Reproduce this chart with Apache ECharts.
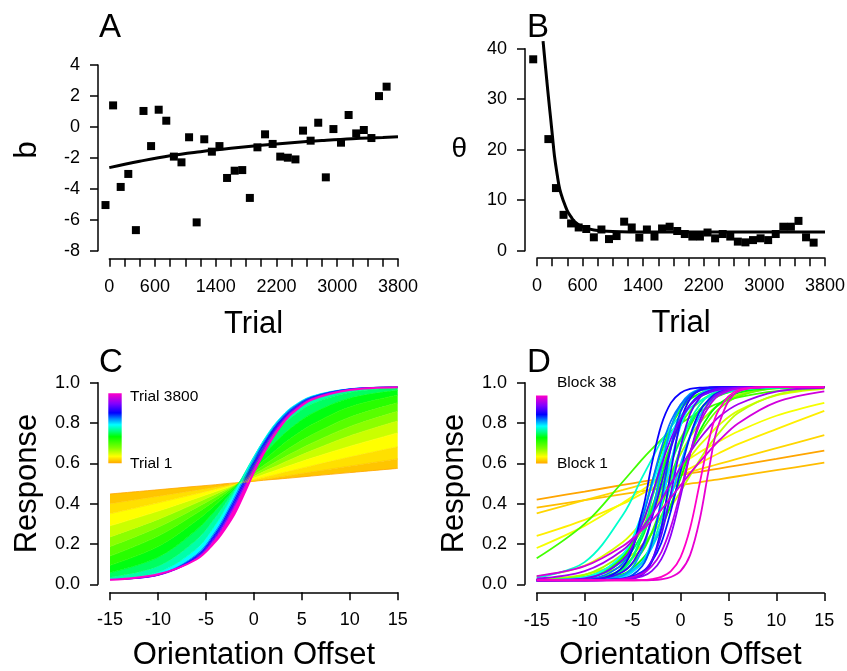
<!DOCTYPE html>
<html><head><meta charset="utf-8">
<script src="https://cdn.jsdelivr.net/npm/echarts@6/dist/echarts.min.js"></script>
<style>html,body{margin:0;padding:0;background:#fff}#chart{width:847px;height:671px}</style>
</head><body><div id="chart"></div>
<script>
// ---------- Panel A / B data ----------
const blockTrials = [-50,50,150,250,350,450,550,650,750,850,950,1050,1150,1250,1350,1450,1550,1650,1750,1850,1950,2050,2150,2250,2350,2450,2550,2650,2750,2850,2950,3050,3150,3250,3350,3450,3550,3650];
const biasValues = [-5.05,1.39,-3.88,-3.04,-6.67,1.03,-1.24,1.11,0.40,-1.92,-2.29,-0.67,-6.17,-0.80,-1.60,-1.24,-3.30,-2.83,-2.79,-4.59,-1.32,-0.48,-1.10,-1.92,-1.99,-2.10,-0.24,-0.89,0.27,-3.26,-0.14,-1.02,0.77,-0.42,-0.20,-0.72,1.99,2.60];
const biasFitTrials = [0,400,800,1200,1600,2000,2400,2800,3200,3600,3800];
const biasFitValues = [-2.63,-2.22,-1.86,-1.6,-1.38,-1.19,-1.02,-0.88,-0.76,-0.68,-0.63];
const thetaValues = [37.9,null,22.1,12.4,7.1,5.4,4.6,4.3,2.65,4.2,2.3,2.9,5.75,4.6,2.6,4.2,2.8,4.4,4.75,3.9,3.3,2.8,2.8,3.6,2.45,3.3,2.8,1.8,1.65,2.1,2.45,2.1,3.3,4.75,4.75,5.9,2.65,1.6];
const thetaFitTrials = [80,105,130,155,180,205,230,265,300,350,400,450,500,600,750,1000,1500,3800];
const thetaFitValues = [41.5,37.5,33.6,29.8,26.2,22.5,18.8,15.2,12.2,9.8,7.9,6.7,5.7,4.7,4.1,3.8,3.7,3.7];
const trialTickLabels = [0,600,1400,2200,3000,3800];

// ---------- Panel C / D data ----------
const offsetGrid = [-15,-10,-6,-4,-3,-2,-1,0,1,2,3,4,6,10,15];
// psychometric curves over trials (trial 1 first, trial 3800 last)
const trialCurves = [
 [.448,.469,.486,.494,.499,.503,.507,.511,.516,.52,.524,.528,.537,.554,.575],
 [.40,.437,.467,.482,.489,.497,.505,.512,.52,.527,.535,.542,.557,.586,.622],
 [.35,.404,.449,.472,.484,.495,.507,.518,.53,.541,.553,.564,.587,.631,.682],
 [.29,.363,.427,.46,.476,.493,.51,.527,.544,.56,.577,.593,.625,.684,.751],
 [.235,.322,.404,.447,.469,.491,.513,.535,.558,.579,.601,.622,.662,.736,.81],
 [.187,.283,.38,.433,.461,.489,.517,.545,.572,.599,.625,.651,.699,.782,.858],
 [.14,.239,.352,.417,.451,.486,.521,.555,.589,.622,.654,.685,.74,.829,.9],
 [.094,.187,.315,.395,.438,.482,.527,.571,.613,.654,.693,.729,.791,.88,.938],
 [.058,.134,.269,.367,.421,.477,.534,.59,.644,.694,.739,.78,.845,.923,.962],
 [.036,.09,.22,.333,.4,.471,.544,.614,.68,.739,.789,.831,.893,.952,.974],
 [.027,.06,.175,.296,.374,.46,.549,.634,.711,.777,.83,.871,.925,.967,.978],
 [.024,.05,.152,.271,.351,.443,.538,.631,.714,.784,.839,.881,.933,.97,.979],
 [.024,.048,.145,.26,.339,.429,.524,.618,.702,.774,.832,.875,.93,.969,.979],
 [.024,.046,.139,.249,.326,.415,.51,.604,.691,.765,.824,.87,.927,.969,.978],
 [.023,.045,.132,.239,.314,.401,.495,.59,.678,.754,.816,.864,.924,.968,.978],
 [.023,.044,.127,.229,.301,.387,.481,.576,.666,.744,.808,.857,.921,.967,.978],
 [.022,.05,.123,.212,.275,.35,.45,.556,.648,.73,.797,.848,.915,.964,.978]
];
const trialCurveShade = [0,.035,.065,.10,.15,.21,.27,.33,.39,.44,.49,.55,.62,.70,.78,.87,1.0];
// fitted curve per block (block 1 .. block 38)
const blockCurves = [
 [.42,.46,.493,.509,.517,.525,.533,.541,.55,.558,.566,.574,.59,.622,.663],
 [.38,.417,.447,.462,.469,.477,.484,.492,.499,.506,.514,.521,.536,.566,.603],
 [.352,.417,.468,.494,.507,.52,.533,.546,.558,.571,.584,.597,.623,.675,.74],
 [.24,.32,.40,.45,.475,.50,.525,.55,.575,.60,.625,.65,.695,.77,.86],
 [.18,.29,.405,.468,.5,.532,.563,.595,.625,.655,.682,.709,.758,.836,.90],
 [.039,.093,.21,.31,.37,.43,.5,.565,.63,.69,.74,.79,.86,.937,.97],
 [.025,.048,.114,.195,.25,.31,.383,.46,.54,.617,.69,.75,.85,.94,.973],
 [.025,.047,.15,.27,.355,.45,.55,.645,.73,.80,.85,.89,.94,.972,.975],
 [.022,.037,.134,.278,.383,.5,.617,.722,.805,.866,.907,.935,.963,.975,.978],
 [.022,.033,.093,.18,.255,.34,.445,.555,.66,.745,.815,.87,.932,.972,.978],
 [.022,.035,.14,.31,.43,.565,.69,.79,.86,.907,.937,.955,.972,.977,.978],
 [.129,.30,.51,.62,.671,.717,.759,.797,.828,.856,.879,.898,.927,.958,.973],
 [.02,.024,.065,.162,.257,.383,.53,.672,.785,.866,.914,.944,.97,.977,.978],
 [.02,.028,.134,.345,.5,.655,.78,.866,.918,.946,.963,.971,.976,.978,.978],
 [.021,.024,.05,.125,.19,.278,.395,.525,.655,.76,.84,.893,.95,.975,.978],
 [.02,.024,.08,.23,.37,.535,.69,.81,.89,.935,.957,.969,.977,.978,.979],
 [.021,.033,.115,.25,.355,.475,.6,.715,.80,.866,.91,.937,.965,.977,.978],
 [.02,.022,.072,.25,.42,.617,.78,.88,.935,.96,.971,.975,.977,.978,.979],
 [.02,.021,.04,.105,.19,.325,.5,.675,.81,.89,.938,.96,.975,.978,.979],
 [.033,.11,.345,.53,.62,.71,.78,.835,.875,.908,.932,.946,.965,.976,.978],
 [.02,.035,.15,.35,.485,.625,.745,.83,.89,.93,.951,.964,.975,.978,.979],
 [.02,.02,.036,.11,.215,.395,.605,.785,.89,.942,.965,.975,.978,.979,.979],
 [.02,.022,.046,.11,.18,.29,.435,.595,.735,.835,.90,.938,.968,.977,.978],
 [.02,.021,.044,.17,.34,.575,.775,.89,.945,.967,.975,.977,.978,.979,.979],
 [.02,.024,.105,.325,.5,.675,.81,.89,.938,.96,.971,.976,.978,.979,.979],
 [.02,.02,.028,.09,.205,.42,.68,.855,.935,.965,.975,.977,.978,.979,.979],
 [.02,.021,.028,.062,.112,.205,.365,.56,.735,.857,.92,.954,.975,.978,.979],
 [.02,.021,.088,.36,.595,.79,.90,.949,.969,.975,.977,.978,.979,.979,.979],
 [.02,.02,.022,.048,.112,.278,.56,.805,.92,.963,.975,.978,.979,.979,.979],
 [.02,.022,.062,.19,.325,.5,.675,.81,.89,.938,.96,.971,.977,.978,.979],
 [.02,.02,.025,.058,.118,.245,.453,.68,.845,.925,.958,.972,.977,.978,.979],
 [.02,.029,.122,.30,.44,.59,.722,.82,.887,.93,.952,.965,.975,.978,.979],
 [.02,.02,.023,.039,.065,.125,.245,.435,.648,.812,.905,.947,.975,.978,.979],
 [.028,.065,.17,.278,.345,.42,.5,.58,.655,.722,.78,.83,.893,.956,.975],
 [.02,.02,.026,.052,.09,.16,.285,.46,.648,.795,.885,.936,.971,.978,.979],
 [.041,.09,.19,.27,.315,.37,.43,.49,.55,.607,.661,.712,.798,.904,.957],
 [.02,.02,.02,.02,.021,.025,.036,.065,.145,.32,.58,.795,.956,.979,.979],
 [.02,.02,.02,.021,.026,.037,.065,.134,.278,.5,.722,.866,.963,.979,.979]
];

// ---------- styling helpers ----------
const FONT = "'Liberation Sans', Arial, Helvetica, sans-serif";
const rampStops = [[0,[255,165,0]],[0.1,[255,255,0]],[0.22,[128,255,0]],[0.38,[0,255,0]],[0.46,[0,255,128]],[0.55,[0,255,255]],[0.64,[0,128,255]],[0.72,[0,0,255]],[0.85,[128,0,255]],[1,[255,0,200]]];
function ramp(f){
  for(let i=1;i<rampStops.length;i++){
    if(f<=rampStops[i][0]){
      const f0=rampStops[i-1][0],c0=rampStops[i-1][1],f1=rampStops[i][0],c1=rampStops[i][1];
      const t=(f-f0)/(f1-f0);
      return 'rgb('+c0.map((v,j)=>Math.round(v+(c1[j]-v)*t)).join(',')+')';
    }
  }
  return 'rgb(255,0,200)';
}
const gradStops = rampStops.map(s=>({offset:1-s[0],color:'rgb('+s[1].join(',')+')'})).reverse();

function xAx(gi,min,max,interval,name,only,offset,gap){
  return {gridIndex:gi,type:'value',min,max,interval,offset,
    name,nameLocation:'middle',nameGap:gap,
    nameTextStyle:{fontFamily:FONT,fontSize:31,color:'#000'},
    axisLine:{show:true,onZero:false,lineStyle:{color:'#000',width:1.5}},
    axisTick:{show:true,length:8,lineStyle:{color:'#000',width:1.5}},
    axisLabel:{show:true,margin:19,fontFamily:FONT,fontSize:18,color:'#000',
      formatter:v=> only ? (only.includes(v)?String(v):'') : String(v)},
    splitLine:{show:false}};
}
function yAx(gi,min,max,interval,name,fmt,offset,gap,extra){
  return Object.assign({gridIndex:gi,type:'value',min,max,interval,offset,
    name,nameLocation:'middle',nameGap:gap,
    nameTextStyle:{fontFamily:FONT,fontSize:31,color:'#000'},
    axisLine:{show:true,onZero:false,lineStyle:{color:'#000',width:1.5}},
    axisTick:{show:true,length:8,lineStyle:{color:'#000',width:1.5}},
    axisLabel:{show:true,margin:18,fontFamily:FONT,fontSize:18,color:'#000',formatter:fmt},
    splitLine:{show:false}}, extra||{});
}

const series = [];
// A
series.push({type:'scatter',xAxisIndex:0,yAxisIndex:0,clip:false,symbol:'rect',symbolSize:8,
  itemStyle:{color:'#000',opacity:1},data:blockTrials.map((t,i)=>[t,biasValues[i]])});
series.push({type:'line',xAxisIndex:0,yAxisIndex:0,clip:false,smooth:0.4,showSymbol:false,symbol:'none',
  lineStyle:{color:'#000',width:3},data:biasFitTrials.map((t,i)=>[t,biasFitValues[i]])});
// B
series.push({type:'scatter',xAxisIndex:1,yAxisIndex:1,clip:false,symbol:'rect',symbolSize:8,
  itemStyle:{color:'#000',opacity:1},data:blockTrials.map((t,i)=>[t,thetaValues[i]]).filter(d=>d[1]!==null)});
series.push({type:'line',xAxisIndex:1,yAxisIndex:1,clip:false,smooth:0.4,showSymbol:false,symbol:'none',
  lineStyle:{color:'#000',width:3},data:thetaFitTrials.map((t,i)=>[t,thetaFitValues[i]])});
// C : band between successive trial curves (stacked on the response dimension)
trialCurves.forEach((curve,k)=>{
  const col = ramp(trialCurveShade[k]);
  const prev = k>0 ? trialCurves[k-1] : null;
  const s = {type:'line',xAxisIndex:2,yAxisIndex:2,stack:'trialBand',stackStrategy:'all',
    dimensions:['resp','offset'],encode:{x:'offset',y:'resp'},
    smooth:0.35,showSymbol:false,symbol:'none',
    lineStyle:{color:col,width:k===trialCurves.length-1?2:0.8},
    data:offsetGrid.map((x,i)=>[prev ? +(curve[i]-prev[i]).toFixed(4) : curve[i], x])};
  if(k>0) s.areaStyle={color:col,opacity:1};
  series.push(s);
});
// D
blockCurves.forEach((curve,k)=>{
  series.push({type:'line',xAxisIndex:3,yAxisIndex:3,smooth:0.35,showSymbol:false,symbol:'none',
    lineStyle:{color:ramp(k/(blockCurves.length-1)),width:1.8},
    data:offsetGrid.map((x,i)=>[x,curve[i]])});
});

const one = v=>v.toFixed(1);
const option = {
  animation:false,
  backgroundColor:'#fff',
  grid:[
    {left:109.3,right:449,top:65,bottom:420.3,outerBoundsMode:'none'},
    {left:537,right:22,top:48.7,bottom:420.3,outerBoundsMode:'none'},
    {left:110,right:449.3,top:382.7,bottom:86.7,outerBoundsMode:'none'},
    {left:536.7,right:22.7,top:382.7,bottom:86.7,outerBoundsMode:'none'}
  ],
  xAxis:[
    xAx(0,0,3800,200,'Trial',trialTickLabels,8,50),
    xAx(1,0,3800,200,'Trial',trialTickLabels,7.5,50),
    xAx(2,-15,15,5,'Orientation Offset',null,8,48),
    xAx(3,-15,15,5,'Orientation Offset',null,8.7,47)
  ],
  yAxis:[
    yAx(0,-8,4,2,'b',v=>String(v),11.3,55,{nameTextStyle:{fontFamily:FONT,fontSize:31,color:'#000',padding:[0,0,0,16]}}),
    yAx(1,0,40,10,'θ',v=>String(v),12,58,{nameRotate:0,nameTextStyle:{fontFamily:FONT,fontSize:28,color:'#000'}}),
    yAx(2,0,1,0.2,'Response',one,12,55),
    yAx(3,0,1,0.2,'Response',one,11.7,55)
  ],
  series,
  graphic:[
    {type:'text',left:99,top:11,style:{text:'A',font:'33px '+FONT,fill:'#000'}},
    {type:'text',left:527,top:11,style:{text:'B',font:'33px '+FONT,fill:'#000'}},
    {type:'text',left:99,top:346,style:{text:'C',font:'33px '+FONT,fill:'#000'}},
    {type:'text',left:527,top:346,style:{text:'D',font:'33px '+FONT,fill:'#000'}},
    {type:'rect',shape:{x:108.3,y:393.3,width:13.4,height:70},
      style:{fill:{type:'linear',x:0,y:0,x2:0,y2:1,colorStops:gradStops}}},
    {type:'text',x:130,y:397,style:{text:'Trial 3800',font:'15.5px '+FONT,fill:'#000',verticalAlign:'middle'}},
    {type:'text',x:130,y:464,style:{text:'Trial 1',font:'15.5px '+FONT,fill:'#000',verticalAlign:'middle'}},
    {type:'rect',shape:{x:536,y:395.5,width:11.5,height:68},
      style:{fill:{type:'linear',x:0,y:0,x2:0,y2:1,colorStops:gradStops}}},
    {type:'text',x:557,y:383,style:{text:'Block 38',font:'15.5px '+FONT,fill:'#000',verticalAlign:'middle'}},
    {type:'text',x:557,y:464,style:{text:'Block 1',font:'15.5px '+FONT,fill:'#000',verticalAlign:'middle'}}
  ]
};
const chart = echarts.init(document.getElementById('chart'),null,{renderer:'canvas'});
chart.setOption(option);
</script>
</body></html>
